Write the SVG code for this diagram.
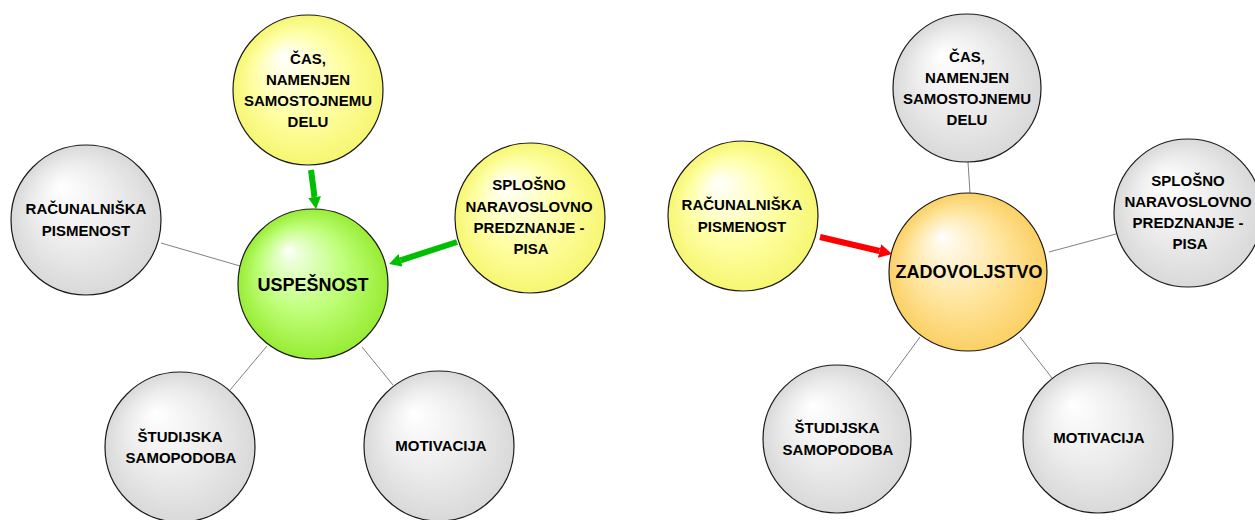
<svg xmlns="http://www.w3.org/2000/svg" width="1255" height="520" viewBox="0 0 1255 520">
<defs>
<style>
.t{font-family:"Liberation Sans",Arial,sans-serif;font-weight:bold;font-size:15px;fill:#000;text-anchor:middle}
.b{font-size:18px}
.n{stroke:#1a1a1a;stroke-width:1.2}
.c{stroke:#808080;stroke-width:1;fill:none}
.ag{stroke:#00bf00;stroke-width:6;fill:none}
.ar{stroke:#ff0000;stroke-width:6;fill:none}
</style>
<radialGradient id="gGray" cx="0.5" cy="0.5" r="0.5" fx="0.33" fy="0.27">
<stop offset="0" stop-color="#ffffff"/><stop offset="0.12" stop-color="#fbfbfb"/><stop offset="0.55" stop-color="#ececec"/><stop offset="1" stop-color="#d9d9d9"/>
</radialGradient>
<radialGradient id="gYel" cx="0.5" cy="0.5" r="0.5" fx="0.33" fy="0.27">
<stop offset="0" stop-color="#ffffff"/><stop offset="0.12" stop-color="#ffffec"/><stop offset="0.55" stop-color="#ffffa8"/><stop offset="1" stop-color="#f6f672"/>
</radialGradient>
<radialGradient id="gGrn" cx="0.5" cy="0.5" r="0.5" fx="0.33" fy="0.27">
<stop offset="0" stop-color="#ffffff"/><stop offset="0.12" stop-color="#ecffd8"/><stop offset="0.55" stop-color="#c0ff7c"/><stop offset="1" stop-color="#98ec34"/>
</radialGradient>
<radialGradient id="gOr" cx="0.5" cy="0.5" r="0.5" fx="0.33" fy="0.27">
<stop offset="0" stop-color="#ffffff"/><stop offset="0.12" stop-color="#fff8e6"/><stop offset="0.55" stop-color="#ffe6a2"/><stop offset="1" stop-color="#fbd064"/>
</radialGradient>
<marker id="mG" markerUnits="userSpaceOnUse" markerWidth="12" markerHeight="13" viewBox="0 0 12 13" refX="0" refY="6.5" orient="auto">
<path d="M0,0 L12,6.5 L0,13 z" fill="#00bf00"/>
</marker>
<marker id="mR" markerUnits="userSpaceOnUse" markerWidth="13" markerHeight="14" viewBox="0 0 13 14" refX="0" refY="7" orient="auto">
<path d="M0,0 L13,7 L0,14 z" fill="#ff0000"/>
</marker>
</defs>
<rect width="1255" height="520" fill="#ffffff"/>
<g id="connectors">
<line class="c" x1="161" y1="243" x2="240" y2="266"/>
<line class="c" x1="230" y1="390" x2="267" y2="346"/>
<line class="c" x1="393" y1="385" x2="362" y2="347"/>
<line class="ag" x1="311" y1="170" x2="314.5" y2="197" marker-end="url(#mG)"/>
<line class="ag" x1="457" y1="242" x2="400.5" y2="260.3" marker-end="url(#mG)"/>
<line class="c" x1="968" y1="162" x2="970" y2="193"/>
<line class="c" x1="1116" y1="234" x2="1049" y2="252"/>
<line class="c" x1="887" y1="382" x2="920" y2="337"/>
<line class="c" x1="1052" y1="378" x2="1020" y2="337"/>
<line class="ar" x1="820" y1="237" x2="879.5" y2="251" marker-end="url(#mR)"/>
</g>
<g id="l-cas">
<circle class="n" cx="308" cy="90" r="75" fill="url(#gYel)"/>
<text class="t" x="308" y="64">ČAS,</text>
<text class="t" x="308" y="85">NAMENJEN</text>
<text class="t" x="308" y="106">SAMOSTOJNEMU</text>
<text class="t" x="308" y="127">DELU</text>
</g>
<g id="l-splosno">
<circle class="n" cx="530" cy="218" r="75" fill="url(#gYel)"/>
<text class="t" x="529" y="190">SPLOŠNO</text>
<text class="t" x="529" y="212">NARAVOSLOVNO</text>
<text class="t" x="529" y="233">PREDZNANJE -</text>
<text class="t" x="531" y="254">PISA</text>
</g>
<g id="l-uspesnost">
<circle class="n" cx="313" cy="284" r="75" fill="url(#gGrn)"/>
<text class="t b" x="313" y="291">USPEŠNOST</text>
</g>
<g id="l-racunalniska">
<circle class="n" cx="86" cy="220" r="75" fill="url(#gGray)"/>
<text class="t" x="86" y="214">RAČUNALNIŠKA</text>
<text class="t" x="86" y="236">PISMENOST</text>
</g>
<g id="l-studijska">
<circle class="n" cx="180" cy="447" r="75" fill="url(#gGray)"/>
<text class="t" x="180" y="442">ŠTUDIJSKA</text>
<text class="t" x="181" y="463">SAMOPODOBA</text>
</g>
<g id="l-motivacija">
<circle class="n" cx="439" cy="446" r="75" fill="url(#gGray)"/>
<text class="t" x="441" y="451">MOTIVACIJA</text>
</g>
<g id="r-cas">
<circle class="n" cx="967" cy="88" r="74" fill="url(#gGray)"/>
<text class="t" x="967" y="62">ČAS,</text>
<text class="t" x="967" y="83">NAMENJEN</text>
<text class="t" x="967" y="104">SAMOSTOJNEMU</text>
<text class="t" x="967" y="125">DELU</text>
</g>
<g id="r-splosno">
<circle class="n" cx="1188" cy="213" r="74" fill="url(#gGray)"/>
<text class="t" x="1188" y="186">SPLOŠNO</text>
<text class="t" x="1188" y="207">NARAVOSLOVNO</text>
<text class="t" x="1188" y="228">PREDZNANJE -</text>
<text class="t" x="1190" y="249">PISA</text>
</g>
<g id="r-zadovoljstvo">
<circle class="n" cx="968" cy="272" r="79" fill="url(#gOr)"/>
<text class="t b" x="969" y="278">ZADOVOLJSTVO</text>
</g>
<g id="r-racunalniska">
<circle class="n" cx="743" cy="216" r="75" fill="url(#gYel)"/>
<text class="t" x="742" y="210">RAČUNALNIŠKA</text>
<text class="t" x="742" y="232">PISMENOST</text>
</g>
<g id="r-studijska">
<circle class="n" cx="837" cy="439" r="74" fill="url(#gGray)"/>
<text class="t" x="837" y="433">ŠTUDIJSKA</text>
<text class="t" x="838" y="455">SAMOPODOBA</text>
</g>
<g id="r-motivacija">
<circle class="n" cx="1098" cy="438" r="75" fill="url(#gGray)"/>
<text class="t" x="1099" y="443">MOTIVACIJA</text>
</g>
</svg>
